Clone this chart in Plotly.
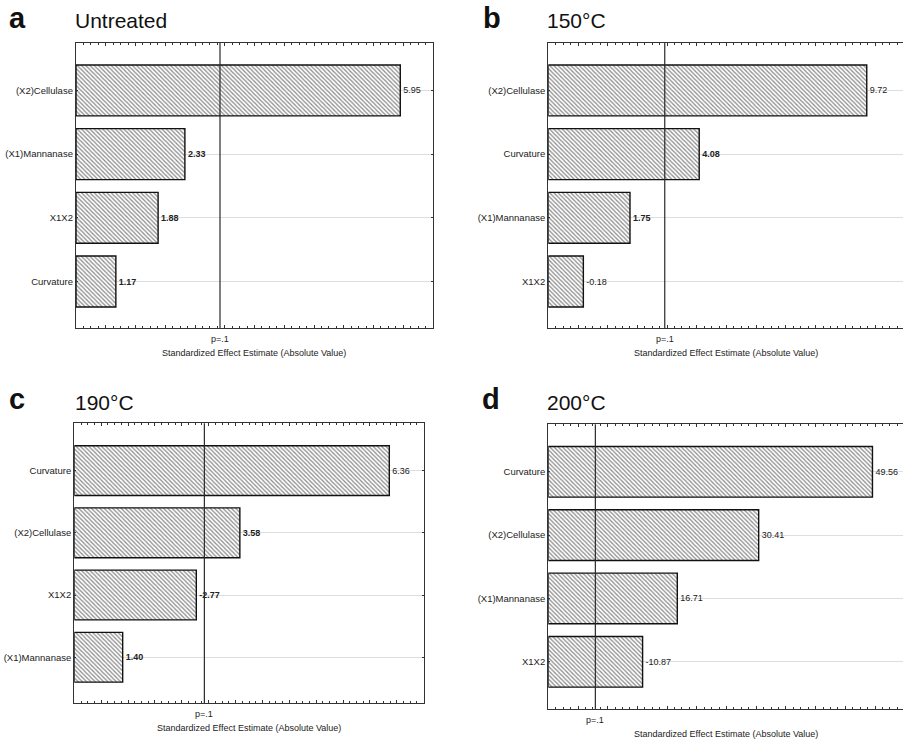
import plotly.graph_objects as go

FIG_W, FIG_H = 903, 744
FONT = "Arial, Liberation Sans, sans-serif"

# Pareto chart data: effect names (top to bottom), standardized effects, bold label flags
letters = ["a", "b", "c", "d"]
titles = ["Untreated", "150°C", "190°C", "200°C"]

terms_a = ["(X2)Cellulase", "(X1)Mannanase", "X1X2", "Curvature"]
effects_a = [5.95, 2.33, 1.88, 1.17]
bold_a = [False, True, True, True]

terms_b = ["(X2)Cellulase", "Curvature", "(X1)Mannanase", "X1X2"]
effects_b = [9.72, 4.08, 1.75, -0.18]
bold_b = [False, True, True, False]

terms_c = ["Curvature", "(X2)Cellulase", "X1X2", "(X1)Mannanase"]
effects_c = [6.36, 3.58, -2.77, 1.40]
bold_c = [False, True, True, True]

terms_d = ["Curvature", "(X2)Cellulase", "(X1)Mannanase", "X1X2"]
effects_d = [49.56, 30.41, 16.71, -10.87]
bold_d = [False, False, False, False]

p_critical = 2.92  # significance line, p = .1
p_label = "p=.1"
x_title = "Standardized Effect Estimate (Absolute Value)"

# per-panel layout: pixel frame (left, right, top, bottom), x range, x tick step, y range
panels = [
    dict(terms=terms_a, eff=effects_a, bold=bold_a, box=(76, 433, 43, 328),
         xr=[0.5, 6.5], dt=0.5, yr=[3.73, -0.745]),
    dict(terms=terms_b, eff=effects_b, bold=bold_b, box=(548.3, 903, 43, 328),
         xr=[-1.0, 10.94], dt=1.0, yr=[3.73, -0.745]),
    dict(terms=terms_c, eff=effects_c, bold=bold_c, box=(74.3, 423.7, 423.3, 703.3),
         xr=[0.5, 7.0], dt=0.5, yr=[3.74, -0.76]),
    dict(terms=terms_d, eff=effects_d, bold=bold_d, box=(548.3, 903, 424.3, 709.3),
         xr=[-5.0, 54.7], dt=5.0, yr=[3.75, -0.75]),
]
framed_right = [True, False, True, False]
title_pos = [(7, 73, 18, 21), (481, 545, 18, 21), (7, 73, 399, 402), (480, 545, 399, 402)]


def py(v):
    return 1 - v / FIG_H


def px(v):
    return v / FIG_W


fig = go.Figure()
annotations = []
shapes = []

for i, p in enumerate(panels):
    n = "" if i == 0 else str(i + 1)
    xa, ya = "x" + n, "y" + n
    left, right, top, bottom = p["box"]
    x0 = p["xr"][0]
    labels = [f"<b>{v:.2f}</b>" if b else f"{v:.2f}" for v, b in zip(p["eff"], p["bold"])]
    # bars grow from the left edge of the axis out to |effect|
    fig.add_trace(go.Bar(
        x=[abs(v) - x0 for v in p["eff"]], base=x0, y=p["terms"], orientation="h",
        xaxis=xa, yaxis=ya, width=0.8,
        marker=dict(
            color="white",
            line=dict(color="#111111", width=1.4),
            pattern=dict(shape="\\", fgcolor="#1a1a1a", bgcolor="white",
                         size=3, solidity=0.42),
        ),
        text=labels, textposition="outside", cliponaxis=False,
        textfont=dict(family=FONT, size=9, color="#222222"),
        hoverinfo="skip", showlegend=False,
    ))

    axis_common = dict(showline=True, linecolor="#333333", linewidth=1.3)
    fig.layout["xaxis" + n] = dict(
        domain=[px(left), min(px(right), 1.0)], anchor=ya, range=p["xr"],
        tick0=0, dtick=p["dt"], ticks="inside", ticklen=3, tickcolor="#333333",
        tickwidth=1, showticklabels=False, showgrid=False, zeroline=False,
        mirror="allticks",
        minor=dict(dtick=p["dt"] / 4, ticks="inside", ticklen=2,
                   tickcolor="#333333", showgrid=False),
        **axis_common,
    )
    fig.layout["yaxis" + n] = dict(
        domain=[py(bottom), py(top)], anchor=xa, type="category",
        categoryorder="array", categoryarray=p["terms"], range=p["yr"],
        ticks="inside", ticklen=2, tickcolor="#333333",
        tickfont=dict(family=FONT, size=9.5, color="#222222"),
        showgrid=True, gridcolor="#dedede", gridwidth=1, zeroline=False,
        mirror="ticks" if framed_right[i] else False,
        **axis_common,
    )

    # p = .1 reference line
    shapes.append(dict(type="line", xref=xa, yref=ya + " domain",
                       x0=p_critical, x1=p_critical, y0=0, y1=1,
                       line=dict(color="#2a2a2a", width=1.2), layer="above"))

    lx, tx, ly, ty = title_pos[i]
    annotations += [
        dict(text=f"<b>{letters[i]}</b>", x=px(lx), y=py(ly), xref="paper", yref="paper",
             xanchor="left", yanchor="middle", showarrow=False,
             font=dict(family=FONT, size=29, color="#111111")),
        dict(text=titles[i], x=px(tx), y=py(ty), xref="paper", yref="paper",
             xanchor="left", yanchor="middle", showarrow=False,
             font=dict(family=FONT, size=21, color="#111111")),
        dict(text=p_label, x=p_critical, y=py(bottom + 11), xref=xa, yref="paper",
             xanchor="center", yanchor="middle", showarrow=False,
             font=dict(family=FONT, size=9, color="#222222")),
        dict(text=x_title, x=px((left + min(right, 903)) / 2), y=py(bottom + 25),
             xref="paper", yref="paper", xanchor="center", yanchor="middle",
             showarrow=False, font=dict(family=FONT, size=9, color="#222222")),
    ]

fig.update_layout(
    width=FIG_W, height=FIG_H, margin=dict(l=0, r=0, t=0, b=0),
    paper_bgcolor="white", plot_bgcolor="white",
    annotations=annotations, shapes=shapes, bargap=0.2,
    font=dict(family=FONT),
)

fig.write_html("out.html")
